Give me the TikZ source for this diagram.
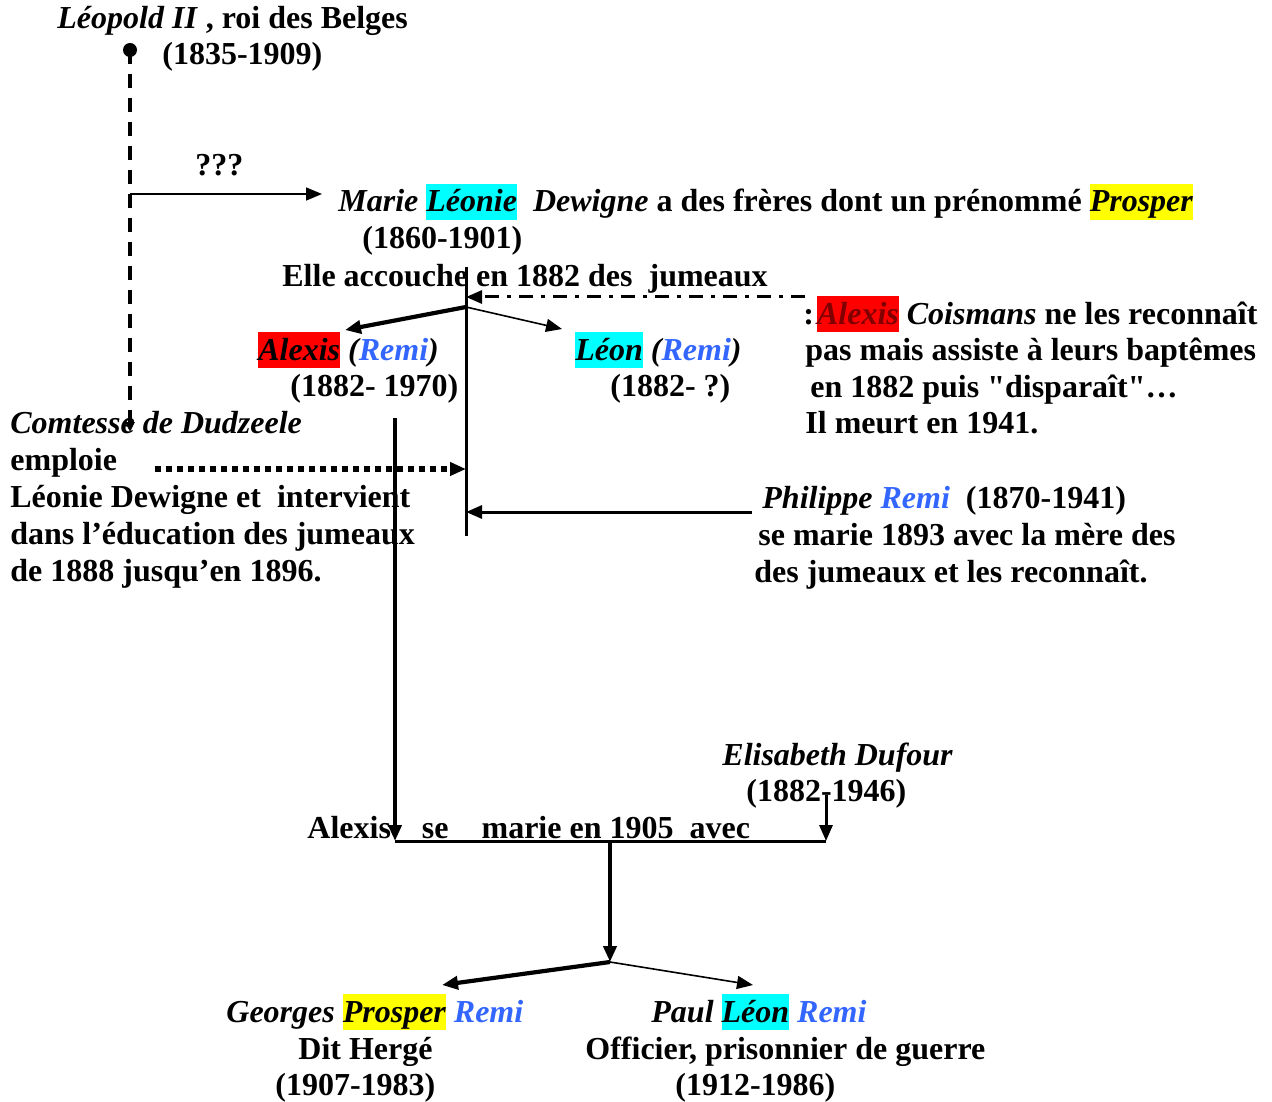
\documentclass[tikz,border=0pt]{standalone}
\usepackage{fontspec}
\setmainfont{Liberation Serif}[Ligatures=TeXOff]
\usetikzlibrary{arrows.meta}
\definecolor{hlcyan}{RGB}{0,255,255}
\definecolor{hlyellow}{RGB}{255,255,0}
\definecolor{hlred}{RGB}{255,0,0}
\definecolor{remiblue}{RGB}{51,102,255}
\definecolor{darkred}{RGB}{128,0,0}
\newcommand\hlbox[2]{{\setlength\fboxsep{0pt}\colorbox{#1}{\rule[-4pt]{0pt}{18pt}#2}}}
\newcommand\reminame{\textcolor{remiblue}{Remi}}
\tikzset{
    tx/.style={anchor=base west,inner sep=0pt},
    tip/.style={-{Triangle[length=8pt,width=6.5pt]}},
    smalltip/.style={-{Triangle[length=5pt,width=4.5pt]}},
    thinline/.style={line width=0.8pt},
    midline/.style={line width=1.5pt},
    thickline/.style={line width=2.1pt},
    leodash/.style={line width=1.6pt,dash pattern=on 7pt off 5pt},
    dashdot/.style={line width=1.5pt,dash pattern=on 7pt off 4pt on 2pt off 4pt},
    dots/.style={line width=2.6pt,dash pattern=on 3.2pt off 2.3pt},
}
\begin{document}
\begin{tikzpicture}[x=0.5pt,y=-0.5pt,font=\fontsize{16pt}{19pt}\selectfont\bfseries]
\useasboundingbox (0,0) rectangle (1272,1101);
\node[tx] (leo) at (57,29) {\textit{Léopold II} , roi des Belges};
\node[tx] (leodates) at (162,65) {(1835-1909)};
\node[circle,fill,inner sep=0pt,minimum size=7pt] (leodot) at (130,50) {};
\node[tx] (qqq) at (195,176) {???};
\node[tx] (marie) at (338,212) {\textit{Marie \hlbox{hlcyan}{Léonie}\ \ Dewigne} a des frères dont un prénommé \hlbox{hlyellow}{\textit{Prosper}}};
\node[tx] (mariedates) at (362,249) {(1860-1901)};
\node[tx] (accouche) at (282,286) {Elle accouche en 1882 des\ \ jumeaux};
\node[tx] (alexis) at (258,360) {\hlbox{hlred}{\textit{Alexis}} \textit{(\reminame)}};
\node[tx] (alexisdates) at (290,396) {(1882- 1970)};
\node[tx] (leon) at (575,360) {\hlbox{hlcyan}{\textit{Léon}} \textit{(\reminame)}};
\node[tx] (leondates) at (610,396) {(1882- ?)};
\node[tx] (cois) at (803,324) {:\hspace{1.5pt}\hlbox{hlred}{\textcolor{darkred}{\textit{Alexis}}} \textit{Coismans} ne les reconnaît};
\node[tx] (coisb) at (805,360) {pas mais assiste à leurs baptêmes};
\node[tx] (coisc) at (810,397) {en 1882 puis "disparaît"…};
\node[tx] (coisd) at (805,433) {Il meurt en 1941.};
\node[tx] (comtesse) at (10,433) {\textit{Comtesse de Dudzeele}};
\node[tx] (emploie) at (10,470) {emploie};
\node[tx] (comtc) at (10,507) {Léonie Dewigne et\ \ intervient};
\node[tx] (comtd) at (10,544) {dans l’éducation des jumeaux};
\node[tx] (comte) at (10,581) {de 1888 jusqu’en 1896.};
\node[tx] (philippe) at (762,508) {\textit{Philippe \reminame}\ \ (1870-1941)};
\node[tx] (philb) at (758,545) {se marie 1893 avec la mère des};
\node[tx] (philc) at (754,582) {des jumeaux et les reconnaît.};
\node[tx] (elisabeth) at (722,765) {\textit{Elisabeth Dufour}};
\node[tx] (elisdates) at (746,801) {(1882-1946)};
\node[tx] (mariage) at (307,838) {Alexis\hspace{15.5pt}se\hspace{16.5pt}marie en 1905\ \ avec};
\node[tx] (georges) at (226,1022) {\textit{Georges \hlbox{hlyellow}{Prosper} \reminame}};
\node[tx] (herge) at (298,1059) {Dit Hergé};
\node[tx] (gdates) at (275,1095) {(1907-1983)};
\node[tx] (paul) at (651,1022) {\textit{Paul \hlbox{hlcyan}{Léon} \reminame}};
\node[tx] (officier) at (585,1059) {Officier, prisonnier de guerre};
\node[tx] (pdates) at (675,1095) {(1912-1986)};
\coordinate (leoend) at (130,432);
\coordinate (qstart) at (130,194);
\coordinate (qend) at (322,194);
\coordinate (trunktop) at (466,267);
\coordinate (trunkbot) at (466,536);
\coordinate (coisstart) at (805,297);
\coordinate (coisend) at (466,297);
\coordinate (split) at (466,307);
\coordinate (alexisin) at (345,330);
\coordinate (leonin) at (562,329);
\coordinate (comtstart) at (155,469);
\coordinate (comtend) at (466,469);
\coordinate (philstart) at (752,512);
\coordinate (philend) at (466,512);
\coordinate (alexistop) at (395,418);
\coordinate (wedleft) at (395,841);
\coordinate (elistop) at (826,795);
\coordinate (wedright) at (826,841);
\coordinate (wedmid) at (610,841);
\coordinate (kids) at (610,962);
\coordinate (georgesin) at (442,985);
\coordinate (paulin) at (753,985);
\draw[leodash,smalltip] (leodot.center) -- (leoend);
\draw[thinline,tip] (qstart) -- (qend);
\draw[midline] (trunktop) -- (trunkbot);
\draw[dashdot,tip] (coisstart) -- (coisend);
\draw[thickline,tip] (split) -- (alexisin);
\draw[thinline,tip] (split) -- (leonin);
\draw[dots,tip] (comtstart) -- (comtend);
\draw[midline,tip] (philstart) -- (philend);
\draw[thickline,tip] (alexistop) -- (wedleft);
\draw[midline,tip] (elistop) -- (wedright);
\draw[midline] (wedleft) -- (wedright);
\draw[thickline,tip] (wedmid) -- (kids);
\draw[thickline,tip] (kids) -- (georgesin);
\draw[thinline,tip] (kids) -- (paulin);
\end{tikzpicture}
\end{document}
